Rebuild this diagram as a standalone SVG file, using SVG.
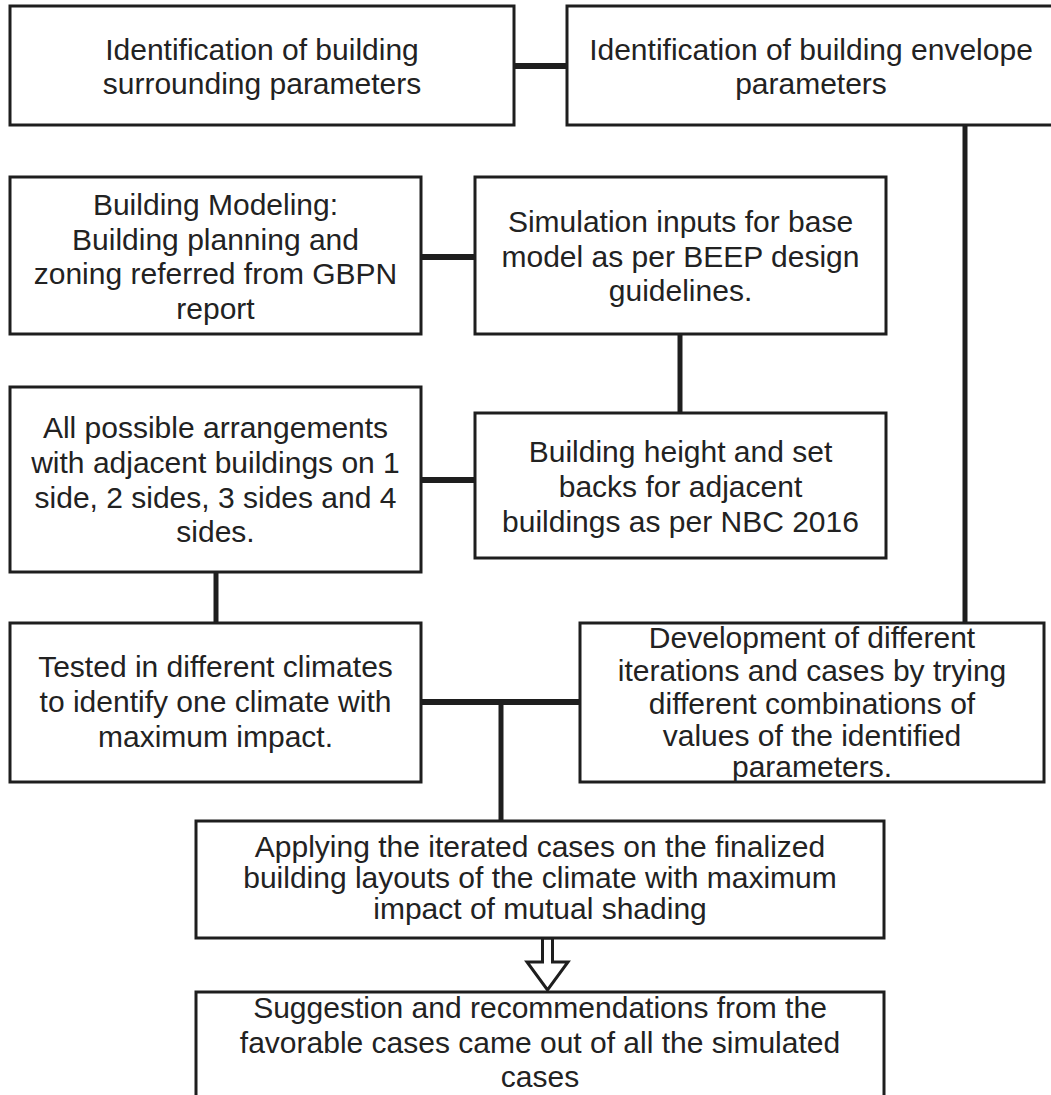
<svg xmlns="http://www.w3.org/2000/svg" width="1051" height="1095" viewBox="0 0 1051 1095">
<style>
.box{fill:#fff;stroke:#1e1e1e;stroke-width:3}
.t{font-family:"Liberation Sans",Arial,sans-serif;font-size:30px;fill:#222;text-anchor:middle}
.c{stroke:#1e1e1e;stroke-width:6;fill:none}
.cv{stroke:#1e1e1e;stroke-width:5;fill:none}
.arrow{fill:#fff;stroke:#1e1e1e;stroke-width:3;stroke-linejoin:miter}
</style>
<rect width="1051" height="1095" fill="#fff"/>
<g id="connectors">
<line class="c" x1="514" y1="66" x2="567" y2="66"/>
<line class="cv" x1="965" y1="125" x2="965" y2="623"/>
<line class="c" x1="421" y1="257" x2="475" y2="257"/>
<line class="cv" x1="680" y1="334" x2="680" y2="413"/>
<line class="c" x1="421" y1="480" x2="475" y2="480"/>
<line class="cv" x1="216" y1="572" x2="216" y2="623"/>
<line class="c" x1="421" y1="702" x2="580" y2="702"/>
<line class="cv" x1="501" y1="702" x2="501" y2="821"/>
<polygon class="arrow" points="542.5,938 552.5,938 552.5,962 568,962 547.5,990 527,962 542.5,962"/>
</g>
<g id="n1"><rect class="box" x="10" y="6" width="504" height="119"/>
<text class="t" x="262" y="60">Identification of building</text>
<text class="t" x="262" y="94">surrounding parameters</text></g>
<g id="n2"><rect class="box" x="567" y="6" width="500" height="119"/>
<text class="t" x="811" y="60">Identification of building envelope</text>
<text class="t" x="811" y="94">parameters</text></g>
<g id="n3"><rect class="box" x="10" y="177" width="411" height="157"/>
<text class="t" x="215.5" y="215">Building Modeling:</text>
<text class="t" x="215.5" y="249.5">Building planning and</text>
<text class="t" x="215.5" y="284">zoning referred from GBPN</text>
<text class="t" x="215.5" y="318.5">report</text></g>
<g id="n4"><rect class="box" x="475" y="177" width="411" height="157"/>
<text class="t" x="680.5" y="232">Simulation inputs for base</text>
<text class="t" x="680.5" y="266.5">model as per BEEP design</text>
<text class="t" x="680.5" y="301">guidelines.</text></g>
<g id="n5"><rect class="box" x="10" y="387" width="411" height="185"/>
<text class="t" x="215.5" y="438">All possible arrangements</text>
<text class="t" x="215.5" y="473">with adjacent buildings on 1</text>
<text class="t" x="215.5" y="508">side, 2 sides, 3 sides and 4</text>
<text class="t" x="215.5" y="542">sides.</text></g>
<g id="n6"><rect class="box" x="475" y="413" width="411" height="145"/>
<text class="t" x="680.5" y="462">Building height and set</text>
<text class="t" x="680.5" y="497">backs for adjacent</text>
<text class="t" x="680.5" y="532">buildings as per NBC 2016</text></g>
<g id="n7"><rect class="box" x="10" y="623" width="411" height="159"/>
<text class="t" x="215.5" y="677">Tested in different climates</text>
<text class="t" x="215.5" y="712">to identify one climate with</text>
<text class="t" x="215.5" y="747">maximum impact.</text></g>
<g id="n8"><rect class="box" x="580" y="623" width="464" height="159"/>
<text class="t" x="812" y="648">Development of different</text>
<text class="t" x="812" y="681">iterations and cases by trying</text>
<text class="t" x="812" y="714">different combinations of</text>
<text class="t" x="812" y="746">values of the identified</text>
<text class="t" x="812" y="777">parameters.</text></g>
<g id="n9"><rect class="box" x="196" y="821" width="688" height="117"/>
<text class="t" x="540" y="857">Applying the iterated cases on the finalized</text>
<text class="t" x="540" y="888">building layouts of the climate with maximum</text>
<text class="t" x="540" y="919">impact of mutual shading</text></g>
<g id="n10"><rect class="box" x="196" y="992" width="688" height="130"/>
<text class="t" x="540" y="1018">Suggestion and recommendations from the</text>
<text class="t" x="540" y="1052.5">favorable cases came out of all the simulated</text>
<text class="t" x="540" y="1087">cases</text></g>
</svg>
